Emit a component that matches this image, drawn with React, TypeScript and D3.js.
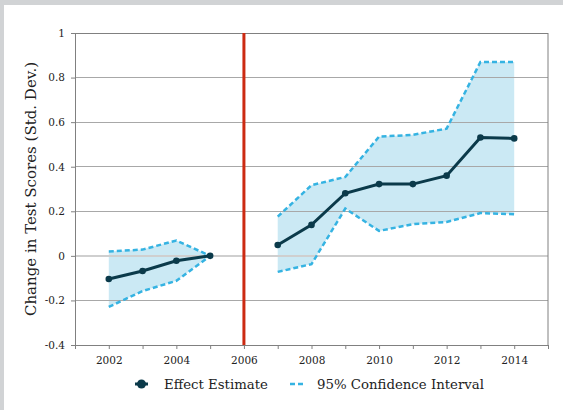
import { useEffect, useRef } from 'react'
import * as d3 from 'd3'

const preYears = [2002, 2003, 2004, 2005]
const preEstimate = [-0.104, -0.068, -0.022, 0]
const preUpper = [0.02, 0.028, 0.069, 0]
const preLower = [-0.229, -0.158, -0.112, 0]

const postYears = [2007, 2008, 2009, 2010, 2011, 2012, 2013, 2014]
const postEstimate = [0.049, 0.139, 0.281, 0.322, 0.322, 0.36, 0.531, 0.527]
const postUpper = [0.176, 0.317, 0.354, 0.535, 0.543, 0.571, 0.87, 0.87]
const postLower = [-0.072, -0.037, 0.212, 0.112, 0.142, 0.152, 0.192, 0.187]

const policyYear = 2006
const yTicks = [-0.4, -0.2, 0, 0.2, 0.4, 0.6, 0.8, 1]
const xLabelYears = [2002, 2004, 2006, 2008, 2010, 2012, 2014]

const WIDTH = 563
const HEIGHT = 410
const FONT = '"DejaVu Serif", "Liberation Serif", serif'

function fmtY(v: number): string {
  if (v === 0) return '0'
  if (v === 1) return '1'
  return String(Math.round(v * 10) / 10)
}

export default function App() {
  const svgRef = useRef<SVGSVGElement>(null)

  useEffect(() => {
    if (!svgRef.current) return
    const svg = d3.select(svgRef.current)
    svg.selectAll('*').remove()

    // page frame
    svg.append('rect').attr('width', WIDTH).attr('height', HEIGHT).attr('fill', '#d1d3d5')
    svg.append('rect').attr('x', 4).attr('y', 5).attr('width', WIDTH - 4).attr('height', HEIGHT - 5).attr('fill', '#fff')

    const x = d3.scaleLinear().domain([2001, 2015]).range([75, 548])
    const y = d3.scaleLinear().domain([-0.4, 1]).range([345, 33])

    const g = svg.append('g')

    // CI bands
    const band = (years: number[], lo: number[], hi: number[]) => {
      const area = d3.area<number>()
        .x((_, i) => x(years[i]))
        .y0((_, i) => y(lo[i]))
        .y1((_, i) => y(hi[i]))
      g.append('path').attr('d', area(years)).attr('fill', '#cbe9f4')
    }
    band(preYears, preLower, preUpper)
    band(postYears, postLower, postUpper)

    // Grid
    g.append('g')
      .selectAll('line')
      .data(yTicks.filter(t => t !== -0.4))
      .join('line')
      .attr('x1', x(2001)).attr('x2', x(2015))
      .attr('y1', d => y(d)).attr('y2', d => y(d))
      .attr('stroke', d => (d === 0 ? '#cfcfcf' : d === 1 ? '#808080' : '#a8a8a8'))
      .attr('stroke-width', d => (d === 0 ? 2 : 1))
      .attr('shape-rendering', 'crispEdges')

    // right frame
    g.append('line')
      .attr('x1', x(2015)).attr('x2', x(2015))
      .attr('y1', y(1)).attr('y2', y(-0.4))
      .attr('stroke', '#808080')

    // Y axis
    g.append('g')
      .attr('transform', `translate(${x(2001)},0)`)
      .call(d3.axisLeft(y).tickValues(yTicks).tickSize(4).tickPadding(6).tickFormat(v => fmtY(v as number)))
      .call(sel => sel.attr('font-family', FONT))
      .call(sel => sel.select('.domain').attr('stroke', '#808080'))
      .call(sel => sel.selectAll('.tick line').attr('stroke', '#808080'))
      .call(sel => sel.selectAll('text').attr('fill', '#222').attr('font-size', 10.5))

    // X axis
    g.append('g')
      .attr('transform', `translate(0,${y(-0.4)})`)
      .call(
        d3.axisBottom(x)
          .tickValues(d3.range(2001, 2016))
          .tickSize(4)
          .tickPadding(8)
          .tickFormat(v => (xLabelYears.includes(v as number) ? String(v) : ''))
      )
      .call(sel => sel.attr('font-family', FONT))
      .call(sel => sel.select('.domain').attr('stroke', '#808080'))
      .call(sel => sel.selectAll('.tick line').attr('stroke', '#808080'))
      .call(sel => sel.selectAll('text').attr('fill', '#222').attr('font-size', 10.5))

    // Policy line
    g.append('line')
      .attr('x1', x(policyYear)).attr('x2', x(policyYear))
      .attr('y1', y(1)).attr('y2', y(-0.4))
      .attr('stroke', '#cc2a12')
      .attr('stroke-width', 3)

    // CI dashed bounds
    const dashLine = (years: number[], vals: number[]) => {
      const line = d3.line<number>().x((_, i) => x(years[i])).y(d => y(d))
      g.append('path')
        .attr('d', line(vals))
        .attr('fill', 'none')
        .attr('stroke', '#35b3e2')
        .attr('stroke-width', 2.5)
        .attr('stroke-dasharray', '5 3')
    }
    dashLine(preYears, preUpper)
    dashLine(preYears, preLower)
    dashLine(postYears, postUpper)
    dashLine(postYears, postLower)

    // Effect estimate
    const effect = (years: number[], vals: number[]) => {
      const line = d3.line<number>().x((_, i) => x(years[i])).y(d => y(d))
      g.append('path')
        .attr('d', line(vals))
        .attr('fill', 'none')
        .attr('stroke', '#0b3a4a')
        .attr('stroke-width', 3)
      g.append('g')
        .selectAll('circle')
        .data(vals)
        .join('circle')
        .attr('cx', (_, i) => x(years[i]))
        .attr('cy', d => y(d))
        .attr('r', 3.3)
        .attr('fill', '#0b3a4a')
    }
    effect(preYears, preEstimate)
    effect(postYears, postEstimate)

    // Y title
    svg.append('text')
      .attr('transform', `translate(36,${y(0.3)}) rotate(-90)`)
      .attr('text-anchor', 'middle')
      .attr('font-family', FONT)
      .attr('font-size', 15)
      .attr('fill', '#222')
      .text('Change in Test Scores (Std. Dev.)')

    // Legend
    const lg = svg.append('g').attr('transform', 'translate(0,384)').attr('font-family', FONT)
    lg.append('line').attr('x1', 135).attr('x2', 148).attr('y1', 0).attr('y2', 0)
      .attr('stroke', '#0b3a4a').attr('stroke-width', 3)
    lg.append('circle').attr('cx', 141.5).attr('cy', 0).attr('r', 4.5).attr('fill', '#0b3a4a')
    lg.append('text').attr('x', 164).attr('y', 5).attr('font-size', 13.3)
      .attr('fill', '#222').text('Effect Estimate')
    lg.append('line').attr('x1', 290).attr('x2', 305).attr('y1', 0).attr('y2', 0)
      .attr('stroke', '#35b3e2').attr('stroke-width', 2.5).attr('stroke-dasharray', '5 3')
    lg.append('text').attr('x', 317).attr('y', 5).attr('font-size', 13.3)
      .attr('fill', '#222').text('95% Confidence Interval')
  }, [])

  return (
    <svg
      ref={svgRef}
      width={WIDTH}
      height={HEIGHT}
      style={{ position: 'absolute', left: 0, top: 0, display: 'block' }}
    />
  )
}
